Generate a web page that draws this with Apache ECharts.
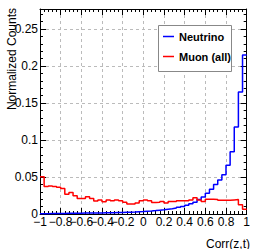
<!DOCTYPE html>
<html><head><meta charset="utf-8">
<script src="https://cdn.jsdelivr.net/npm/echarts@6/dist/echarts.min.js"></script>
<style>html,body{margin:0;padding:0;background:#fff}#c{width:253px;height:249px}</style>
</head><body><div id="c"></div>
<script>
const binEdges = [-1,-0.96,-0.92,-0.88,-0.84,-0.8,-0.76,-0.72,-0.68,-0.64,-0.6,-0.56,-0.52,-0.48,-0.44,-0.4,-0.36,-0.32,-0.28,-0.24,-0.2,-0.16,-0.12,-0.08,-0.04,0,0.04,0.08,0.12,0.16,0.2,0.24,0.28,0.32,0.36,0.4,0.44,0.48,0.52,0.56,0.6,0.64,0.68,0.72,0.76,0.8,0.84,0.88,0.92,0.96,1];
const neutrino = [0.0005,0.0005,0.0006,0.0007,0.0008,0.0008,0.0009,0.001,0.001,0.0011,
  0.0012,0.0013,0.0013,0.0014,0.0015,0.0016,0.0017,0.0018,0.002,0.0021,
  0.0023,0.0025,0.0027,0.003,0.0033,0.0037,0.0041,0.0046,0.0052,0.0058,
  0.0065,0.0072,0.008,0.009,0.0102,0.0118,0.0138,0.016,0.0195,0.023,
  0.028,0.0335,0.04,0.046,0.053,0.066,0.084,0.1176,0.165,0.215];
const muon = [0.0505,0.037,0.038,0.037,0.036,0.0345,0.0268,0.029,0.0248,0.021,
  0.021,0.0234,0.021,0.0176,0.019,0.0166,0.019,0.018,0.019,0.018,
  0.016,0.0135,0.0135,0.015,0.018,0.019,0.018,0.0155,0.016,0.017,
  0.015,0.017,0.017,0.018,0.018,0.018,0.019,0.022,0.019,0.017,
  0.02,0.02,0.0195,0.0185,0.0185,0.0185,0.019,0.0195,0.0125,0.0065];
const seriesNames = ['Neutrino','Muon (all)'];
const xTitle = 'Corr(z,t)';
const yTitle = 'Normalized Counts';

function steps(vals){ return binEdges.map((e,i)=>[e, vals[Math.min(i, vals.length-1)]]); }

const FONT = '"Liberation Sans", Arial, sans-serif';
const fmtX = v => { const r = Math.round(v*10)/10; return (r<0?'\u2212':'') + String(Math.abs(r)); };
const fmtY = v => { const r = Math.round(v*100)/100; if (Math.abs(v*20 - Math.round(v*20))>1e-6) return ''; return String(r); };

const baseX = {
  type:'value', min:-1, max:1, interval:0.2,
  axisLine:{show:true, onZero:false, lineStyle:{color:'#000', width:1}},
  axisTick:{show:true, inside:true, length:6, lineStyle:{color:'#000'}},
  minorTick:{show:true, splitNumber:5, length:3, lineStyle:{color:'#000'}},
};
const baseY = {
  type:'value', min:0, max:0.277, interval:0.05,
  axisLine:{show:true, onZero:false, lineStyle:{color:'#000', width:1}},
  axisTick:{show:true, inside:true, length:6, lineStyle:{color:'#000'}},
  minorTick:{show:true, splitNumber:5, length:3, lineStyle:{color:'#000'}},
};

const chart = echarts.init(document.getElementById('c'), null, {renderer:'svg'});
chart.setOption({
  animation:false,
  backgroundColor:'#fff',
  grid:{left:40, right:2, top:9, bottom:35, containLabel:false},
  xAxis:[
    Object.assign({}, baseX, {position:'bottom',
      axisLabel:{show:true, formatter:fmtX, color:'#000', fontFamily:FONT, fontSize:12, margin:2, showMinLabel:true, showMaxLabel:true},
      splitLine:{show:true, lineStyle:{color:'#bbb', type:[3,3], width:1}}}),
    Object.assign({}, baseX, {position:'top', axisLabel:{show:false}, splitLine:{show:false}})
  ],
  yAxis:[
    Object.assign({}, baseY, {position:'left',
      axisLabel:{show:true, formatter:fmtY, color:'#000', fontFamily:FONT, fontSize:12, margin:2, showMaxLabel:false},
      splitLine:{show:true, lineStyle:{color:'#bbb', type:[3,3], width:1}}}),
    Object.assign({}, baseY, {position:'right', axisLabel:{show:false}, splitLine:{show:false}})
  ],
  legend:{
    orient:'vertical', left:158, top:25, z:10,
    data:seriesNames,
    icon:'rect', itemWidth:11, itemHeight:1.5, itemGap:9,
    padding:[6,2,4,5],
    backgroundColor:'transparent', borderWidth:0,
    textStyle:{color:'#000', fontFamily:FONT, fontSize:11, fontWeight:'bold'}
  },
  graphic:[
    {type:'rect', z:3, shape:{x:158.5, y:25.5, width:73, height:46}, style:{fill:'#fff', stroke:'#888', lineWidth:1}},
    {type:'text', z:5, x:250, y:244, style:{text:xTitle, fill:'#000', font:'12px '+FONT, textAlign:'right', textVerticalAlign:'middle'}},
    {type:'text', z:5, x:12, y:8, rotation:Math.PI/2, style:{text:yTitle, fill:'#000', font:'12px '+FONT, textAlign:'right', textVerticalAlign:'middle'}}
  ],
  series:[
    {name:seriesNames[0], type:'line', step:'end', data:steps(neutrino), symbol:'none', xAxisIndex:0, yAxisIndex:0, z:2,
      lineStyle:{color:'#0000ff', width:1.5}, itemStyle:{color:'#0000ff'}},
    {name:seriesNames[1], type:'line', step:'end', data:steps(muon), symbol:'none', xAxisIndex:0, yAxisIndex:0, z:2,
      lineStyle:{color:'#ff0000', width:1.5}, itemStyle:{color:'#ff0000'}}
  ]
});
</script></body></html>
